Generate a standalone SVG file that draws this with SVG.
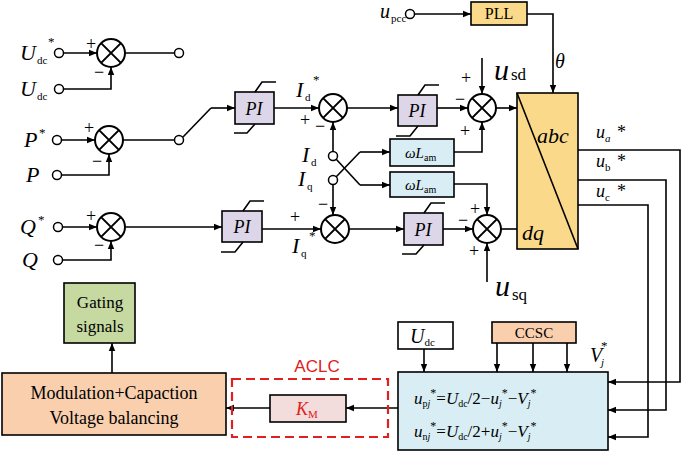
<svg xmlns="http://www.w3.org/2000/svg" width="685" height="460" viewBox="0 0 685 460">
<defs>
<marker id="a" viewBox="0 0 10 10" refX="10" refY="5" markerWidth="8" markerHeight="8" orient="auto" markerUnits="userSpaceOnUse"><path d="M0,1 L10,5 L0,9 z" fill="#000"/></marker>
<g id="sum"><circle r="14" fill="#fff" stroke="#000" stroke-width="2"/><path d="M-9.9,-9.9 L9.9,9.9 M-9.9,9.9 L9.9,-9.9" stroke="#000" stroke-width="2"/></g>
</defs>
<style>
.l{fill:none;stroke:#000;stroke-width:1.6}
.la{fill:none;stroke:#000;stroke-width:1.6;marker-end:url(#a)}
.t{font-family:"Liberation Serif",serif;fill:#000}
.i{font-style:italic}
.pi{fill:#ddd6e8;stroke:#000;stroke-width:1.6}
.wl{fill:#d8eef4;stroke:#000;stroke-width:1.6}
.oc{fill:#fff;stroke:#000;stroke-width:1.5}
</style>
<rect width="685" height="460" fill="#fff"/>
<g id="connectors">
<path class="la" d="M63,53 H97"/><path class="l" d="M125,53 H174"/>
<path class="la" d="M63,89 H111 V67"/>
<path class="la" d="M61,140 H95"/><path class="l" d="M123,140 H174"/>
<path class="l" d="M183,137 L211,108"/><path class="la" d="M211,108 H235"/>
<path class="la" d="M61,175 H109 V154"/>
<path class="la" d="M62,227 H97"/><path class="la" d="M125,227 H222"/>
<path class="la" d="M62,260 H111 V241"/>
<path class="la" d="M274,108 H319"/><path class="la" d="M347,108 H398"/><path class="la" d="M437,108 H468"/><path class="la" d="M496,108 H517"/>
<path class="la" d="M262,229 H321"/><path class="la" d="M349,229 H404"/><path class="la" d="M443,229 H473"/><path class="l" d="M501,229 H517"/>
<path class="la" d="M333,152 V122"/><path class="la" d="M333,184 V215"/>
<path class="l" d="M336,159 L360,185"/><path class="la" d="M360,185 H390"/>
<path class="l" d="M336,177 L360,152"/><path class="la" d="M360,152 H390"/>
<path class="la" d="M454,152 H482 V122"/><path class="la" d="M454,184 H487 V215"/>
<path class="la" d="M482,58 V94"/><path class="la" d="M487,282 V243"/>
<path class="la" d="M414,14 H471"/><path class="la" d="M527,14 H553 V93"/>
<path class="la" d="M578,150 H680 V382 H608"/>
<path class="la" d="M578,180 H666 V410 H608"/>
<path class="la" d="M578,205 H648 V437 H608"/>
<path class="la" d="M424,349 V372"/><path class="la" d="M497,343 V372"/><path class="la" d="M533,343 V372"/><path class="la" d="M567,343 V372"/>
<path class="la" d="M398,408 H346"/><path class="la" d="M270,408 H226"/>
<path class="la" d="M112,373 V343"/>
</g>
<g id="inputs">
<circle class="oc" cx="59" cy="53" r="4.5"/><circle class="oc" cx="59" cy="89" r="4.5"/><circle class="oc" cx="179" cy="53" r="4.5"/>
<circle class="oc" cx="57" cy="140" r="4.5"/><circle class="oc" cx="57" cy="175" r="4.5"/><circle class="oc" cx="179" cy="140" r="4.5"/>
<circle class="oc" cx="58" cy="227" r="4.5"/><circle class="oc" cx="58" cy="260" r="4.5"/>
<circle class="oc" cx="333" cy="156" r="4.5"/><circle class="oc" cx="333" cy="180" r="4.5"/>
<circle class="oc" cx="410" cy="14" r="4.5"/>
<text class="t i" x="20" y="60" font-size="22">U</text><text class="t" x="37" y="64" font-size="11">dc</text><text class="t" x="48" y="46" font-size="13">*</text>
<text class="t i" x="20" y="96" font-size="22">U</text><text class="t" x="37" y="100" font-size="11">dc</text>
<text class="t i" x="24" y="147" font-size="22">P</text><text class="t" x="39" y="137" font-size="13">*</text>
<text class="t i" x="26" y="182" font-size="22">P</text>
<text class="t i" x="20" y="234" font-size="22">Q</text><text class="t" x="38" y="224" font-size="13">*</text>
<text class="t i" x="22" y="267" font-size="22">Q</text>
<text class="t i" x="380" y="18" font-size="20">u</text><text class="t" x="391" y="22" font-size="11">pcc</text>
</g>
<g id="sums">
<use href="#sum" x="111" y="53"/><use href="#sum" x="109" y="140"/><use href="#sum" x="111" y="227"/>
<use href="#sum" x="333" y="108"/><use href="#sum" x="335" y="229"/>
<use href="#sum" x="482" y="108"/><use href="#sum" x="487" y="229"/>
<g class="t" font-size="18">
<text x="86" y="50">+</text><text x="94" y="78">−</text>
<text x="84" y="134">+</text><text x="92" y="167">−</text>
<text x="86" y="222">+</text><text x="94" y="251">−</text>
<text x="300" y="126">+</text><text x="315" y="132">−</text>
<text x="318" y="210">−</text><text x="290" y="223">+</text>
<text x="461" y="84">+</text><text x="455" y="105">−</text><text x="460" y="137">+</text>
<text x="470" y="215">+</text><text x="458" y="226">−</text><text x="469" y="257">+</text>
</g>
</g>
<g id="pi1"><rect class="pi" x="235" y="92" width="39" height="32"/><path class="l" d="M255,92 L262,82 H276 M255,124 L247,133 H234"/><text class="t i" x="254" y="115" font-size="18" text-anchor="middle">PI</text></g>
<g id="pi2"><rect class="pi" x="222" y="211" width="40" height="31"/><path class="l" d="M243,211 L250,201 H264 M243,242 L235,252 H221"/><text class="t i" x="242" y="233" font-size="18" text-anchor="middle">PI</text></g>
<g id="pi3"><rect class="pi" x="398" y="95" width="39" height="31"/><path class="l" d="M418,95 L425,85 H439 M418,126 L410,136 H396"/><text class="t i" x="417" y="117" font-size="18" text-anchor="middle">PI</text></g>
<g id="pi4"><rect class="pi" x="404" y="213" width="39" height="32"/><path class="l" d="M424,213 L431,203 H445 M424,245 L416,254 H402"/><text class="t i" x="423" y="236" font-size="18" text-anchor="middle">PI</text></g>
<g id="labels" class="t">
<text class="i" x="296" y="97" font-size="22">I</text><text x="305" y="101" font-size="11">d</text><text x="313" y="84" font-size="13">*</text>
<text class="i" x="302" y="162" font-size="22">I</text><text x="311" y="166" font-size="11">d</text>
<text class="i" x="298" y="186" font-size="22">I</text><text x="307" y="190" font-size="11">q</text>
<text class="i" x="292" y="253" font-size="22">I</text><text x="301" y="257" font-size="11">q</text><text x="309" y="240" font-size="13">*</text>
<text class="i" x="494" y="80" font-size="30">u</text><text x="511" y="80" font-size="17">sd</text>
<text class="i" x="495" y="296" font-size="30">u</text><text x="512" y="300" font-size="17">sq</text>
<text class="i" x="555" y="68" font-size="20">θ</text>
<text class="i" x="596" y="138" font-size="18">u</text><text class="i" x="605" y="142" font-size="11">a</text><text x="617" y="138" font-size="18">*</text>
<text class="i" x="596" y="167" font-size="18">u</text><text x="605" y="171" font-size="11">b</text><text x="617" y="167" font-size="18">*</text>
<text class="i" x="596" y="197" font-size="18">u</text><text x="605" y="201" font-size="11">c</text><text x="617" y="197" font-size="18">*</text>
<text class="i" x="590" y="362" font-size="20">V</text><text class="i" x="601" y="366" font-size="11">j</text><text x="601" y="350" font-size="13">*</text>
</g>
<g id="wl1"><rect class="wl" x="390" y="139" width="64" height="27"/><text class="t" x="405" y="158" font-size="15"><tspan font-style="italic">ωL</tspan><tspan font-size="10" dy="3">am</tspan></text></g>
<g id="wl2"><rect class="wl" x="390" y="172" width="64" height="25"/><text class="t" x="405" y="190" font-size="15"><tspan font-style="italic">ωL</tspan><tspan font-size="10" dy="3">am</tspan></text></g>
<g id="pll"><rect x="471" y="2" width="56" height="23" fill="#fbd98a" stroke="#000" stroke-width="1.6"/><text class="t" x="499" y="19" font-size="16" text-anchor="middle">PLL</text></g>
<g id="abcdq"><rect x="517" y="93" width="61" height="156" fill="#fbd98a" stroke="#000" stroke-width="1.6"/><path class="l" d="M517,93 L578,249"/><text class="t i" x="537" y="143" font-size="22">abc</text><text class="t i" x="522" y="240" font-size="22">dq</text></g>
<g id="gating"><rect x="64" y="283" width="71" height="60" fill="#c5d9a0" stroke="#000" stroke-width="1.6"/><text class="t" x="100" y="308" font-size="17" text-anchor="middle">Gating</text><text class="t" x="100" y="332" font-size="17" text-anchor="middle">signals</text></g>
<g id="mod"><rect x="2" y="373" width="224" height="62" fill="#f9cfae" stroke="#000" stroke-width="1.6"/><text class="t" x="114" y="399" font-size="18" text-anchor="middle">Modulation+Capaction</text><text class="t" x="114" y="424" font-size="18" text-anchor="middle">Voltage balancing</text></g>
<g id="aclc"><rect x="232" y="379" width="156" height="58" fill="none" stroke="#e02020" stroke-width="2.2" stroke-dasharray="9,5"/><text x="317" y="372" font-family="Liberation Sans,sans-serif" font-size="17" fill="#e02020" text-anchor="middle">ACLC</text></g>
<g id="km"><rect x="270" y="395" width="76" height="27" fill="#f3dcdc" stroke="#000" stroke-width="1.6"/><text x="296" y="415" font-family="Liberation Serif,serif" font-size="18" fill="#e02020"><tspan font-style="italic">K</tspan><tspan font-size="11" dy="3">M</tspan></text></g>
<g id="udc"><rect x="398" y="322" width="55" height="27" fill="#fff" stroke="#000" stroke-width="1.6"/><text class="t" x="410" y="343" font-size="20"><tspan font-style="italic">U</tspan><tspan font-size="11" dy="3">dc</tspan></text></g>
<g id="ccsc"><rect x="492" y="322" width="84" height="21" fill="#f9cfae" stroke="#000" stroke-width="1.6"/><text class="t" x="534" y="338" font-size="15" text-anchor="middle">CCSC</text></g>
<g id="eq"><rect x="398" y="372" width="210" height="78" fill="#d8eef4" stroke="#000" stroke-width="1.6"/>
<text class="t" x="414" y="404" font-size="17"><tspan font-style="italic">u</tspan><tspan font-size="10" dy="3">p<tspan font-style="italic">j</tspan></tspan><tspan dy="-10" font-size="12">*</tspan><tspan dy="7">=</tspan><tspan font-style="italic">U</tspan><tspan font-size="10" dy="3">dc</tspan><tspan dy="-3">/2−</tspan><tspan font-style="italic">u</tspan><tspan font-style="italic" font-size="10" dy="3">j</tspan><tspan dy="-10" font-size="12">*</tspan><tspan dy="7">−</tspan><tspan font-style="italic">V</tspan><tspan font-style="italic" font-size="10" dy="3">j</tspan><tspan dy="-10" font-size="12">*</tspan></text>
<text class="t" x="414" y="437" font-size="17"><tspan font-style="italic">u</tspan><tspan font-size="10" dy="3">n<tspan font-style="italic">j</tspan></tspan><tspan dy="-10" font-size="12">*</tspan><tspan dy="7">=</tspan><tspan font-style="italic">U</tspan><tspan font-size="10" dy="3">dc</tspan><tspan dy="-3">/2+</tspan><tspan font-style="italic">u</tspan><tspan font-style="italic" font-size="10" dy="3">j</tspan><tspan dy="-10" font-size="12">*</tspan><tspan dy="7">−</tspan><tspan font-style="italic">V</tspan><tspan font-style="italic" font-size="10" dy="3">j</tspan><tspan dy="-10" font-size="12">*</tspan></text>
</g>
</svg>
